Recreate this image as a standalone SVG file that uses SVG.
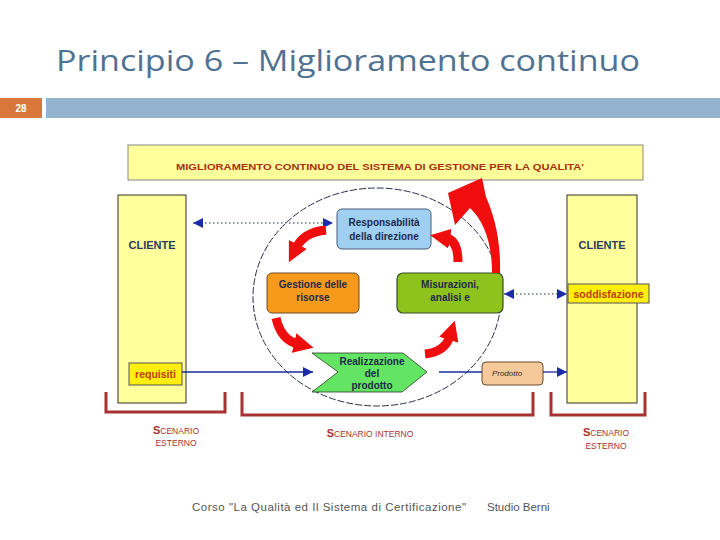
<svg xmlns="http://www.w3.org/2000/svg" width="720" height="540" viewBox="0 0 720 540">
<defs>
<style>
.title{font-family:"Open Sans","Liberation Sans",sans-serif;font-size:29px;fill:#4f7293}
.foot{font-family:"Liberation Sans",sans-serif;font-size:11.5px;fill:#555}
.cl{fill:#ffff9c;stroke:#333;stroke-width:1}
.clt{font-family:"Liberation Sans",sans-serif;font-weight:bold;font-size:11px;fill:#2b3a5c;text-anchor:middle}
.tag{fill:#ffee10;stroke:#555;stroke-width:1}
.tagt{font-family:"Liberation Sans",sans-serif;font-weight:bold;font-size:10.5px;fill:#c0400a;text-anchor:middle}
.nt{font-family:"Liberation Sans",sans-serif;font-weight:bold;font-size:10px;fill:#1e2a4a;text-anchor:middle}
.blue{stroke:#1a2a9a;stroke-width:1.3;fill:none}
.dot{stroke:#1a2a5a;stroke-width:1.2;fill:none;stroke-dasharray:1.5 2.5}
.br{stroke:#a83232;stroke-width:3;fill:none}
.red{fill:#f00d0d}
.redl{stroke:#f00d0d;stroke-width:9;fill:none}
.sc{font-family:"Liberation Sans",sans-serif;font-size:8.5px;fill:#a83232;text-anchor:middle}
.scb{font-weight:bold;font-size:11px}
</style>
<marker id="bh" viewBox="0 0 10 10" refX="10" refY="5" markerWidth="10" markerHeight="10" markerUnits="userSpaceOnUse" orient="auto-start-reverse"><path d="M0,0 L10,5 L0,10 Z" fill="#1a2aa8"/></marker>
<marker id="rh" viewBox="0 0 10 10" refX="2" refY="5" markerWidth="20" markerHeight="20" markerUnits="userSpaceOnUse" orient="auto"><path d="M0,0 L10,5 L0,10 Z" fill="#f00d0d"/></marker>
</defs>
<rect width="720" height="540" fill="#fff"/>
<text class="title" x="56" y="71" textLength="584" lengthAdjust="spacingAndGlyphs">Principio 6 – Miglioramento continuo</text>
<rect x="0" y="98" width="42" height="20" fill="#d9773a"/>
<text x="21" y="112" font-family="Liberation Sans,sans-serif" font-size="10" font-weight="bold" fill="#fff" text-anchor="middle">28</text>
<rect x="46" y="98" width="674" height="20" fill="#94b3cf"/>

<g id="banner">
<rect x="128" y="145" width="515" height="35" fill="#ffff9c" stroke="#888" stroke-width="1"/>
<text x="380" y="170" font-family="Liberation Sans,sans-serif" font-weight="bold" font-size="9px" fill="#a8300e" text-anchor="middle" textLength="408" lengthAdjust="spacingAndGlyphs">MIGLIORAMENTO CONTINUO DEL SISTEMA DI GESTIONE PER LA QUALITA'</text>
</g>

<ellipse cx="377" cy="297" rx="124" ry="109" fill="none" stroke="#2a2f4a" stroke-width="1" stroke-dasharray="7 2"/>

<g id="cliente-sx">
<rect class="cl" x="118" y="195" width="68" height="208"/>
<text class="clt" x="152" y="249">CLIENTE</text>
</g>
<g id="requisiti">
<rect class="tag" x="129" y="363" width="53" height="22"/>
<text class="tagt" x="155.5" y="378">requisiti</text>
</g>
<g id="cliente-dx">
<rect class="cl" x="567" y="195" width="70" height="208"/>
<text class="clt" x="602" y="249">CLIENTE</text>
</g>
<g id="soddisfazione">
<rect class="tag" x="568" y="284" width="81" height="19"/>
<text class="tagt" x="608.5" y="297.5">soddisfazione</text>
</g>

<g id="responsabilita">
<rect x="337" y="209" width="94" height="40" rx="5" fill="#9fd0f2" stroke="#4a5a7a" stroke-width="1"/>
<text class="nt" x="384" y="226">Responsabilità</text>
<text class="nt" x="384" y="240">della direzione</text>
</g>
<g id="gestione">
<rect x="267" y="273" width="92" height="40" rx="5" fill="#f79a1c" stroke="#6a4a2a" stroke-width="1"/>
<text class="nt" x="313" y="288" fill="#4a2a10">Gestione delle</text>
<text class="nt" x="313" y="301" fill="#4a2a10">risorse</text>
</g>
<g id="misurazioni">
<rect x="397" y="273" width="106" height="40" rx="6" fill="#8ec21c" stroke="#3a4a2a" stroke-width="1.2"/>
<text class="nt" x="450" y="288">Misurazioni,</text>
<text class="nt" x="450" y="301">analisi e</text>
</g>
<g id="realizzazione">
<path d="M312,353 L403,353 L427,372 L402,392 L312,392 L338,372 Z" fill="#63e463" stroke="#2a3a2a" stroke-width="0.8"/>
<text class="nt" x="372" y="365" font-size="10.5">Realizzazione</text>
<text class="nt" x="372" y="377" font-size="10.5">del</text>
<text class="nt" x="372" y="389" font-size="10.5">prodotto</text>
</g>
<g id="prodotto">
<rect x="482" y="362" width="61" height="23" rx="4" fill="#f6c99b" stroke="#6a4a2a" stroke-width="1"/>
<text x="507" y="376" font-family="Liberation Sans,sans-serif" font-style="italic" font-size="8px" fill="#3a2a1a" text-anchor="middle">Prodotto</text>
</g>

<g id="connectors">
<path class="dot" d="M193,223 L333,223" marker-start="url(#bh)" marker-end="url(#bh)"/>
<path class="dot" d="M504,294 L567,294" marker-start="url(#bh)" marker-end="url(#bh)"/>
<path class="blue" d="M182,372 L313,372" marker-end="url(#bh)"/>
<path class="blue" d="M439,372 L482,372"/>
<path class="blue" d="M543,372 L567,372" marker-end="url(#bh)"/>
<path class="redl" d="M326,230 Q304,232 296,248" marker-end="url(#rh)"/>
<path class="redl" d="M276,318 Q281,340 298,344" marker-end="url(#rh)"/>
<path class="redl" d="M425,354 Q445,352 450,336" marker-end="url(#rh)"/>
<path class="redl" d="M458,262 Q458,240 446,238" marker-end="url(#rh)"/>
<path class="red" d="M482,178 L486,197 C494,215 501,240 500,273 L492,273 C492,245 485,222 470,208 L455,225 L448,193 Z"/>
</g>

<g id="scenari">
<path class="br" d="M106,392 V412 H225 V392"/>
<path class="br" d="M242,392 V415 H533 V392"/>
<path class="br" d="M551,392 V415 H645 V392"/>
<text class="sc" x="176" y="434"><tspan class="scb">S</tspan>CENARIO</text>
<text class="sc" x="176" y="446">ESTERNO</text>
<text class="sc" x="370" y="437"><tspan class="scb">S</tspan>CENARIO INTERNO</text>
<text class="sc" x="606" y="436"><tspan class="scb">S</tspan>CENARIO</text>
<text class="sc" x="606" y="449">ESTERNO</text>
</g>

<text class="foot" x="192" y="511" textLength="274" lengthAdjust="spacing">Corso "La Qualità ed Il Sistema di Certificazione"</text>
<text class="foot" x="487" y="511">Studio Berni</text>
</svg>
